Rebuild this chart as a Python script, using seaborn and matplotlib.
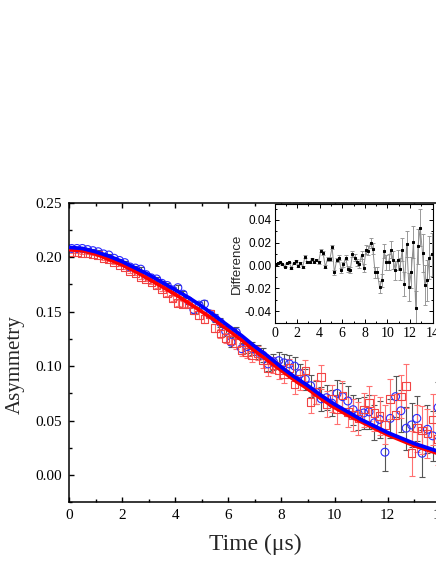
import numpy as np
import pandas as pd
import matplotlib
matplotlib.use("Agg")
import matplotlib.pyplot as plt
from matplotlib.ticker import MultipleLocator
import seaborn as sns

# time bins (us)
time_us = [0.1, 0.3, 0.5, 0.7, 0.9, 1.1, 1.3, 1.5, 1.7, 1.9,
           2.1, 2.3, 2.5, 2.7, 2.9, 3.1, 3.3, 3.5, 3.7, 3.9,
           4.1, 4.3, 4.5, 4.7, 4.9, 5.1, 5.3, 5.5, 5.7, 5.9,
           6.1, 6.3, 6.5, 6.7, 6.9, 7.1, 7.3, 7.5, 7.7, 7.9,
           8.1, 8.3, 8.5, 8.7, 8.9, 9.1, 9.3, 9.5, 9.7, 9.9,
           10.1, 10.3, 10.5, 10.7, 10.9, 11.1, 11.3, 11.5, 11.7, 11.9,
           12.1, 12.3, 12.5, 12.7, 12.9, 13.1, 13.3, 13.5, 13.7, 13.9]

# open circles (blue)
blue_asym = [0.208, 0.208, 0.208, 0.207, 0.206, 0.205, 0.203, 0.202, 0.199, 0.197,
             0.195, 0.191, 0.190, 0.189, 0.184, 0.181, 0.180, 0.176, 0.174, 0.170,
             0.172, 0.166, 0.160, 0.152, 0.156, 0.157, 0.148, 0.144, 0.140, 0.132,
             0.122, 0.131, 0.116, 0.118, 0.116, 0.113, 0.110, 0.102, 0.104, 0.105,
             0.103, 0.102, 0.100, 0.093, 0.088, 0.082, 0.076, 0.070, 0.071, 0.066,
             0.075, 0.072, 0.068, 0.060, 0.056, 0.057, 0.058, 0.048, 0.051, 0.021,
             0.052, 0.072, 0.059, 0.043, 0.046, 0.052, 0.020, 0.042, 0.036, 0.062]
blue_err = [0.0010, 0.0010, 0.0010, 0.0011, 0.0011, 0.0012, 0.0012, 0.0013, 0.0013, 0.0014,
            0.0015, 0.0016, 0.0017, 0.0018, 0.0019, 0.0020, 0.0021, 0.0022, 0.0023, 0.0025,
            0.0026, 0.0028, 0.0029, 0.0031, 0.0033, 0.0035, 0.0037, 0.0039, 0.0041, 0.0044,
            0.0046, 0.0049, 0.0052, 0.0055, 0.0058, 0.0061, 0.0065, 0.0068, 0.0072, 0.0076,
            0.0080, 0.0084, 0.0088, 0.0092, 0.0096, 0.0100, 0.0105, 0.0110, 0.0114, 0.0119,
            0.0124, 0.0129, 0.0134, 0.0139, 0.0145, 0.0150, 0.0156, 0.0162, 0.0168, 0.0174,
            0.0180, 0.0186, 0.0192, 0.0198, 0.0204, 0.0210, 0.0216, 0.0222, 0.0228, 0.0234]

# open squares (red)
red_asym = [0.205, 0.205, 0.204, 0.204, 0.203, 0.202, 0.199, 0.198, 0.195, 0.193,
            0.191, 0.187, 0.185, 0.182, 0.180, 0.177, 0.174, 0.171, 0.167, 0.162,
            0.158, 0.157, 0.157, 0.151, 0.147, 0.143, 0.148, 0.135, 0.130, 0.126,
            0.124, 0.121, 0.115, 0.113, 0.110, 0.112, 0.105, 0.098, 0.101, 0.096,
            0.093, 0.098, 0.083, 0.088, 0.096, 0.067, 0.076, 0.090, 0.065, 0.070,
            0.060, 0.073, 0.058, 0.055, 0.052, 0.060, 0.066, 0.057, 0.054, 0.046,
            0.070, 0.055, 0.072, 0.082, 0.020, 0.043, 0.041, 0.038, 0.051, 0.033]
red_err = [0.0010, 0.0010, 0.0011, 0.0011, 0.0012, 0.0012, 0.0013, 0.0013, 0.0014, 0.0014,
           0.0015, 0.0016, 0.0017, 0.0018, 0.0019, 0.0020, 0.0022, 0.0023, 0.0024, 0.0026,
           0.0027, 0.0029, 0.0030, 0.0032, 0.0034, 0.0036, 0.0038, 0.0040, 0.0043, 0.0045,
           0.0048, 0.0051, 0.0054, 0.0057, 0.0060, 0.0063, 0.0067, 0.0070, 0.0074, 0.0078,
           0.0082, 0.0086, 0.0090, 0.0095, 0.0099, 0.0104, 0.0108, 0.0113, 0.0118, 0.0123,
           0.0128, 0.0133, 0.0138, 0.0144, 0.0149, 0.0155, 0.0161, 0.0167, 0.0173, 0.0179,
           0.0185, 0.0191, 0.0197, 0.0203, 0.0209, 0.0215, 0.0221, 0.0227, 0.0233, 0.0239]

# fit curves, read every 0.5 us
fit_time = [0.0, 0.5, 1.0, 1.5, 2.0, 2.5, 3.0, 3.5, 4.0, 4.5,
            5.0, 5.5, 6.0, 6.5, 7.0, 7.5, 8.0, 8.5, 9.0, 9.5,
            10.0, 10.5, 11.0, 11.5, 12.0, 12.5, 13.0, 13.5, 14.0]
blue_fit = [0.209, 0.208, 0.205, 0.201, 0.196, 0.190, 0.184, 0.177, 0.170, 0.163,
            0.155, 0.146, 0.137, 0.128, 0.118, 0.109, 0.099, 0.090, 0.082, 0.073,
            0.065, 0.058, 0.051, 0.045, 0.039, 0.034, 0.029, 0.025, 0.021]
red_fit = [0.207, 0.206, 0.203, 0.198, 0.193, 0.187, 0.180, 0.173, 0.166, 0.158,
           0.150, 0.142, 0.133, 0.124, 0.114, 0.105, 0.096, 0.087, 0.079, 0.070,
           0.062, 0.055, 0.049, 0.043, 0.037, 0.032, 0.027, 0.023, 0.019]

# inset: difference
diff = [0.001, 0.002, 0.003, 0.001, -0.001, 0.002, 0.003, -0.002, 0.002, 0.004,
        0.000, 0.002, -0.001, 0.008, 0.003, 0.003, 0.006, 0.003, 0.005, 0.003,
        0.013, 0.011, -0.001, 0.006, 0.006, 0.016, -0.006, 0.005, 0.007, -0.004,
        0.001, 0.007, -0.003, -0.004, 0.010, 0.007, 0.003, 0.001, 0.009, -0.002,
        0.014, 0.013, 0.020, 0.015, -0.006, -0.006, -0.019, -0.013, 0.013, 0.003,
        0.003, 0.014, 0.005, -0.004, 0.005, -0.003, 0.014, -0.016, 0.019, -0.019,
        -0.006, 0.021, -0.037, 0.017, 0.033, 0.011, -0.017, -0.013, 0.007, 0.010]
diff_err = [0.0005, 0.0005, 0.0005, 0.0005, 0.0006, 0.0006, 0.0006, 0.0007, 0.0007, 0.0007,
            0.0008, 0.0008, 0.0009, 0.0009, 0.0010, 0.0010, 0.0011, 0.0011, 0.0012, 0.0012,
            0.0013, 0.0014, 0.0014, 0.0015, 0.0016, 0.0017, 0.0018, 0.0019, 0.0020, 0.0021,
            0.0022, 0.0023, 0.0024, 0.0026, 0.0027, 0.0029, 0.0030, 0.0032, 0.0034, 0.0036,
            0.0038, 0.0040, 0.0043, 0.0045, 0.0048, 0.0051, 0.0054, 0.0057, 0.0060, 0.0064,
            0.0068, 0.0072, 0.0077, 0.0082, 0.0088, 0.0094, 0.0100, 0.0108, 0.0116, 0.0124,
            0.0132, 0.0140, 0.0148, 0.0155, 0.0162, 0.0168, 0.0174, 0.0180, 0.0186, 0.0190]

sns.set_theme(style="ticks")
plt.rcParams["font.family"] = "Liberation Serif"
plt.rcParams["axes.unicode_minus"] = False
plt.rcParams["axes.edgecolor"] = "black"
plt.rcParams["xtick.color"] = "black"
plt.rcParams["ytick.color"] = "black"

data = pd.DataFrame({"time": time_us, "blue": blue_asym, "blue_err": blue_err,
                     "red": red_asym, "red_err": red_err,
                     "diff": diff, "diff_err": diff_err})
fits = pd.DataFrame({"time": fit_time, "blue": blue_fit, "red": red_fit})

fig = plt.figure(figsize=(4.36, 5.64), dpi=100)
ax = fig.add_axes([0.1583, 0.1094, 0.8525, 0.5312])

# error bars first
ax.errorbar(data["time"], data["blue"], yerr=data["blue_err"], fmt="none",
            ecolor="#555555", elinewidth=0.8, capsize=2.2, capthick=0.8, zorder=1)
ax.errorbar(data["time"], data["red"], yerr=data["red_err"], fmt="none",
            ecolor="#ff7070", elinewidth=0.8, capsize=2.2, capthick=0.8, zorder=1)

sns.scatterplot(data=data, x="time", y="blue", marker="o", s=32, facecolor="none",
                edgecolor="#2a2aff", linewidth=0.8, ax=ax, zorder=2)
sns.scatterplot(data=data, x="time", y="red", marker="s", s=30, facecolor="none",
                edgecolor="#f04444", linewidth=0.8, ax=ax, zorder=2)

sns.lineplot(data=fits, x="time", y="red", color="#ff0000", lw=2.7, ax=ax, zorder=3)
sns.lineplot(data=fits, x="time", y="blue", color="#0000ff", lw=2.7, ax=ax, zorder=4)

ax.set_xlim(0, 14)
ax.set_ylim(-0.025, 0.25)
ax.xaxis.set_major_locator(MultipleLocator(2))
ax.xaxis.set_minor_locator(MultipleLocator(1))
ax.yaxis.set_major_locator(MultipleLocator(0.05))
ax.yaxis.set_minor_locator(MultipleLocator(0.025))
ax.yaxis.set_major_formatter(matplotlib.ticker.FormatStrFormatter("%.2f"))
ax.tick_params(which="both", direction="in", top=True, right=True, width=1.0,
               labelsize=11, pad=5)
ax.tick_params(which="major", length=3.5)
ax.tick_params(which="minor", length=2.2)
for sp in ax.spines.values():
    sp.set_linewidth(1.1)

ax.set_xlabel("Time (μs)", fontsize=17)
ax.set_ylabel("Asymmetry", fontsize=15)
ax.xaxis.set_label_coords(0.5, -0.105)
ax.yaxis.set_label_coords(-0.12, 0.46)

# inset
ins = fig.add_axes([0.6296, 0.4268, 0.3628, 0.2115])
ins.errorbar(data["time"], data["diff"], yerr=data["diff_err"], fmt="none",
             ecolor="#999999", elinewidth=0.7, capsize=1.5, capthick=0.7, zorder=1)
sns.lineplot(data=data, x="time", y="diff", color="#8c8c8c", lw=0.7, marker="s",
             markersize=2.0, markerfacecolor="black", markeredgecolor="black",
             ax=ins, zorder=2)
ins.set_xlim(0, 14)
ins.set_ylim(-0.0505, 0.054)
ins.xaxis.set_major_locator(MultipleLocator(2))
ins.xaxis.set_minor_locator(MultipleLocator(1))
ins.yaxis.set_major_locator(MultipleLocator(0.02))
ins.yaxis.set_minor_locator(MultipleLocator(0.01))
ins.yaxis.set_major_formatter(matplotlib.ticker.FormatStrFormatter("%.2f"))
ins.tick_params(which="both", direction="in", top=True, right=True, width=0.7)
ins.tick_params(which="major", length=2.8)
ins.tick_params(which="minor", length=1.6)
ins.tick_params(axis="x", labelsize=10, pad=3)
ins.tick_params(axis="y", labelsize=8.5, pad=2)
for lab in ins.get_yticklabels():
    lab.set_fontfamily("Liberation Sans")
for sp in ins.spines.values():
    sp.set_linewidth(0.8)
ins.set_xlabel("")
ins.set_ylabel("Difference", fontsize=9.5, fontfamily="Liberation Sans", labelpad=1)

fig.savefig("out.png", dpi=100)
